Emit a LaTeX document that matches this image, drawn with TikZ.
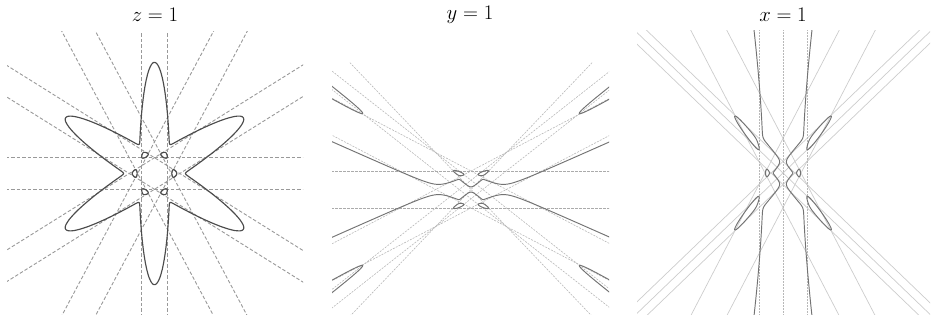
\documentclass[tikz,border=0pt]{standalone}
\usepackage{tikz}
\pgfmathdeclarefunction{ellr}{2}{%
  \begingroup
  \pgfmathparse{cos(#1-(#2))}\let\myc\pgfmathresult
  \pgfmathparse{sin(#1-(#2))}\let\mys\pgfmathresult
  \pgfmathparse{1/sqrt(\myc*\myc/49.42+\mys*\mys/1.1025)}%
  \pgfmathsmuggle\pgfmathresult
  \endgroup}
\pgfmathdeclarefunction{flr}{1}{%
  \begingroup
  \pgfmathparse{ellr(#1,90)}\let\rra\pgfmathresult
  \pgfmathparse{ellr(#1,30)}\let\rrb\pgfmathresult
  \pgfmathparse{ellr(#1,150)}\let\rrc\pgfmathresult
  \pgfmathparse{max(\rra,\rrb,\rrc)}\let\rrm\pgfmathresult
  \pgfmathparse{\rrm*(((\rra/\rrm)^16+(\rrb/\rrm)^16+(\rrc/\rrm)^16)^0.0625)}%
  \pgfmathsmuggle\pgfmathresult
  \endgroup}
\pgfmathdeclarefunction{ovx}{2}{\pgfmathparse{(1.36+0.17*cos(#2))*cos(#1)-0.225*sin(#2)*(1-0.45*cos(#2))*sin(#1)}}
\pgfmathdeclarefunction{ovy}{2}{\pgfmathparse{(1.36+0.17*cos(#2))*sin(#1)+0.225*sin(#2)*(1-0.45*cos(#2))*cos(#1)}}
\begin{document}
\begin{tikzpicture}[x=1pt,y=1pt,
  ttl/.style={font=\fontsize{20}{24}\selectfont, inner sep=0pt},
  lnA/.style={draw=black!40, dash pattern=on 3.5pt off 2pt, line width=0.9pt},
  lnB/.style={draw=black!28, dash pattern=on 2pt off 1.2pt, line width=0.6pt},
  lnBh/.style={draw=black!33, dash pattern=on 2.5pt off 1.5pt, line width=0.7pt},
  lnC/.style={draw=black!20, line width=0.7pt},
  lnCv/.style={draw=black!28, dash pattern=on 2pt off 1pt, line width=0.6pt},
  crvA/.style={draw=black!70, line width=1.15pt, line join=round},
  crvB/.style={draw=black!55, line width=0.95pt, line join=round}]
\useasboundingbox (0,0) rectangle (931,320);
\node[ttl] (t1) at (155,305) {$z=1$};
\node[ttl] (t2) at (470,305) {$y=1$};
\node[ttl] (t3) at (783,305) {$x=1$};
% ---------------- panel z=1
\begin{scope}
\clip (7,5) rectangle (303,288);
\begin{scope}[shift={(154.5,146.5)}, x=14.6pt, y=15.8pt]
\foreach \ph/\dd in {0/0.866,0/-0.866,60/0.866,60/-0.866,120/0.866,120/-0.866,30/1,30/-1,90/1,90/-1,150/1,150/-1}{
  \draw[lnA] ({\dd*cos(\ph)-20*sin(\ph)},{\dd*sin(\ph)+20*cos(\ph)}) -- ({\dd*cos(\ph)+20*sin(\ph)},{\dd*sin(\ph)-20*cos(\ph)});
}
\draw[crvA] plot[domain=0:360, samples=1081, variable=\t] ({flr(\t)*cos(\t)},{flr(\t)*sin(\t)}) -- cycle;
\foreach \ps in {0,60,...,300}{
  \draw[crvA] plot[domain=0:360, samples=73, variable=\t] ({ovx(\ps,\t)},{ovy(\ps,\t)}) -- cycle;
}
\end{scope}
\end{scope}
% ---------------- panel y=1
\begin{scope}
\clip (332,5) rectangle (609,257);
\begin{scope}[shift={(471,130.5)}, x=20.4pt, y=18.5pt]
\foreach \ph/\dd in {0/0.866,0/-0.866,60/0.866,60/-0.866,120/0.866,120/-0.866,30/1,30/-1,150/1,150/-1}{
  \pgfmathsetmacro{\den}{cos(\ph)*cos(\ph)+\dd*\dd}
  \pgfmathsetmacro{\px}{-sin(\ph)*cos(\ph)/\den}
  \pgfmathsetmacro{\pz}{sin(\ph)*\dd/\den}
  \draw[lnB] ({\px-30*\dd},{\pz-30*cos(\ph)}) -- ({\px+30*\dd},{\pz+30*cos(\ph)});
}
\draw[lnBh] (-10,1) -- (10,1);
\draw[lnBh] (-10,-1) -- (10,-1);
\draw[crvB] plot[domain=1:179, samples=713, variable=\t] ({cot(\t)},{1/(flr(\t)*sin(\t))});
\draw[crvB] plot[domain=181:359, samples=713, variable=\t] ({cot(\t)},{1/(flr(\t)*sin(\t))});
\foreach \ps in {60,120,240,300}{
  \draw[crvB] plot[domain=0:360, samples=181, variable=\t] ({ovx(\ps,\t)/ovy(\ps,\t)},{1/ovy(\ps,\t)}) -- cycle;
}
\foreach \ps in {0,180}{
  \foreach \ta/\tb in {2/178,182/358}{
    \draw[crvB] plot[domain=\ta:\tb, samples=177, variable=\t] ({ovx(\ps,\t)/ovy(\ps,\t)},{1/ovy(\ps,\t)});
  }
}
\end{scope}
\end{scope}
% ---------------- panel x=1
\begin{scope}
\clip (637,5) rectangle (930,289);
\begin{scope}[shift={(783,147)}, x=20.8pt, y=20pt]
\foreach \ph/\dd in {60/0.866,60/-0.866,120/0.866,120/-0.866,30/1,30/-1,90/1,90/-1,150/1,150/-1}{
  \pgfmathsetmacro{\den}{sin(\ph)*sin(\ph)+\dd*\dd}
  \pgfmathsetmacro{\phh}{cos(\ph)*\dd/\den}
  \pgfmathsetmacro{\pv}{-cos(\ph)*sin(\ph)/\den}
  \draw[lnC] ({\phh-30*sin(\ph)},{\pv-30*\dd}) -- ({\phh+30*sin(\ph)},{\pv+30*\dd});
}
\draw[lnCv] (1.1547,-10) -- (1.1547,10);
\draw[lnCv] (-1.1547,-10) -- (-1.1547,10);
\draw[lnCv] (0,-10) -- (0,10);
\draw[crvB] plot[domain=-89.5:89.5, samples=717, variable=\t] ({1/(flr(\t)*cos(\t))},{tan(\t)});
\draw[crvB] plot[domain=90.5:269.5, samples=717, variable=\t] ({1/(flr(\t)*cos(\t))},{tan(\t)});
\foreach \ps in {0,60,...,300}{
  \draw[crvB] plot[domain=0:360, samples=181, variable=\t] ({1/ovx(\ps,\t)},{ovy(\ps,\t)/ovx(\ps,\t)}) -- cycle;
}
\end{scope}
\end{scope}
\end{tikzpicture}
\end{document}
